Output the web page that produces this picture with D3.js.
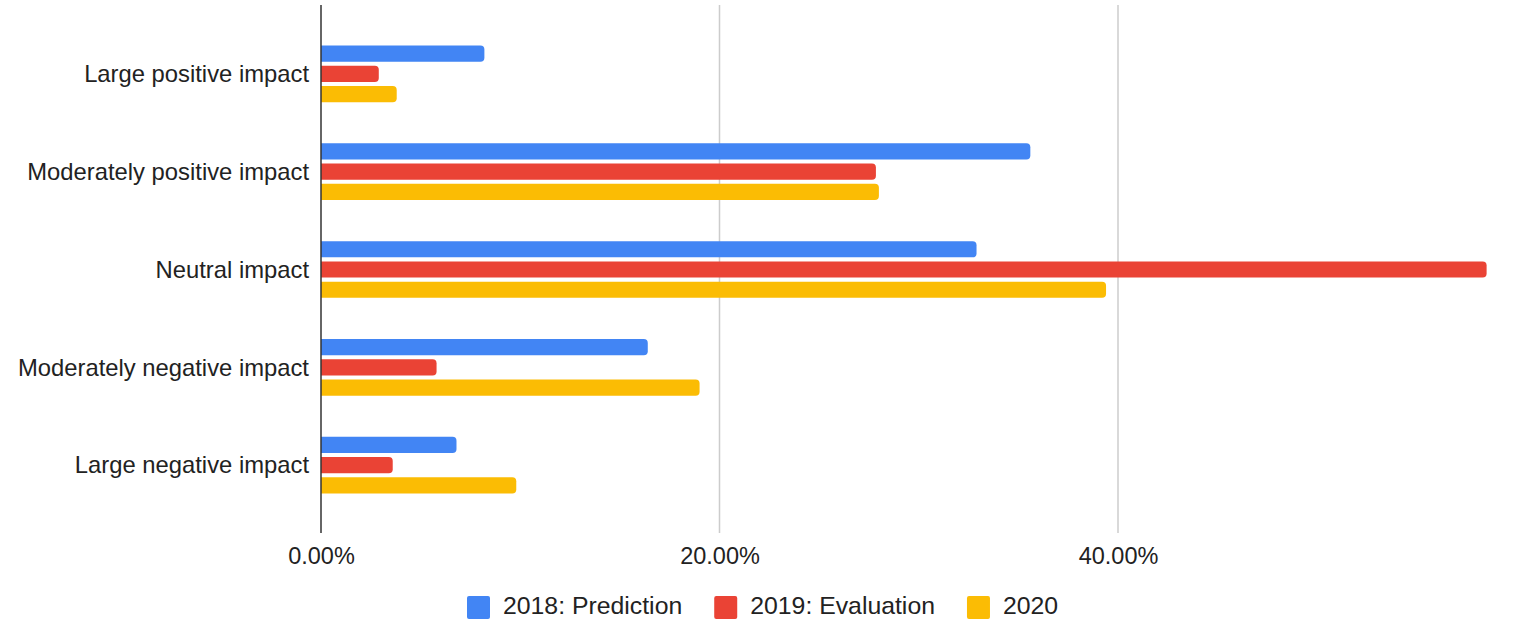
<!DOCTYPE html>
<html>
<head>
<meta charset="utf-8">
<script src="https://cdn.jsdelivr.net/npm/d3@7"></script>
<style>
  html, body { margin: 0; padding: 0; background: #fff; }
  svg { display: block; font-family: "Liberation Sans", Arial, Helvetica, sans-serif; }
</style>
</head>
<body>
<svg id="chart" width="1514" height="619"></svg>
<script>
const categories = ["Large positive impact", "Moderately positive impact", "Neutral impact", "Moderately negative impact", "Large negative impact"];
const seriesNames = ["2018: Prediction", "2019: Evaluation", "2020"];
const seriesColors = ["#4285f4", "#ea4335", "#fbbc04"];
const prediction2018 = [8.2, 35.6, 32.9, 16.4, 6.8];
const evaluation2019 = [2.9, 27.85, 58.5, 5.8, 3.6];
const values2020 = [3.8, 28.0, 39.4, 19.0, 9.8];
const tickValues = [0, 20, 40];
const tickLabels = ["0.00%", "20.00%", "40.00%"];

const seriesValues = [prediction2018, evaluation2019, values2020];
const FONT = "'Liberation Sans', Arial, Helvetica, sans-serif";

const svg = d3.select("#chart");
const x = d3.scaleLinear().domain([0, 60]).range([321, 1516.5]);
const y = d3.scaleBand().domain(categories).range([25, 514]).paddingInner(0.42).paddingOuter(0.21);
const ys = d3.scaleBand().domain(seriesNames).range([0, y.bandwidth()]).paddingInner(0.2);

const gridTop = 5, gridBottom = 533;

// gridlines
svg.append("g").selectAll("line").data(tickValues.filter(d => d !== 0)).join("line")
  .attr("x1", d => x(d)).attr("x2", d => x(d))
  .attr("y1", gridTop).attr("y2", gridBottom)
  .attr("stroke", "#cccccc").attr("stroke-width", 1.5);

// bars with rounded right corners
function barPath(x0, y0, w, h, r) {
  r = Math.min(r, w, h / 2);
  return `M${x0},${y0}H${x0 + w - r}A${r},${r} 0 0 1 ${x0 + w},${y0 + r}V${y0 + h - r}A${r},${r} 0 0 1 ${x0 + w - r},${y0 + h}H${x0}Z`;
}
const barData = [];
categories.forEach((c, i) => {
  seriesNames.forEach((s, j) => {
    barData.push({ cat: c, series: s, value: seriesValues[j][i], color: seriesColors[j] });
  });
});
svg.append("g").selectAll("path").data(barData).join("path")
  .attr("d", d => barPath(x(0), y(d.cat) + ys(d.series), x(d.value) - x(0), ys.bandwidth(), 4))
  .attr("fill", d => d.color);

// zero axis line
svg.append("line")
  .attr("x1", x(0)).attr("x2", x(0)).attr("y1", gridTop).attr("y2", gridBottom)
  .attr("stroke", "#333333").attr("stroke-width", 1.5);

// x axis labels
const xAxis = d3.axisBottom(x).tickValues(tickValues).tickFormat((d, i) => tickLabels[i]).tickSize(0).tickPadding(0);
const gx = svg.append("g").attr("transform", "translate(0,547)").call(xAxis);
gx.select(".domain").remove();
gx.selectAll("text").style("font-family", FONT).style("font-size", "23.5px").attr("fill", "#222").attr("dy", "0.71em");

// y axis labels
const yAxis = d3.axisLeft(y).tickSize(0).tickPadding(0);
const gy = svg.append("g").attr("transform", "translate(309,0)").call(yAxis);
gy.select(".domain").remove();
gy.selectAll("text").style("font-family", FONT).style("font-size", "23.8px").attr("fill", "#222").attr("dy", "0.35em");

// legend
const legend = svg.append("g");
let lx = 467;
seriesNames.forEach((s, j) => {
  legend.append("rect").attr("x", lx).attr("y", 596).attr("width", 23).attr("height", 23).attr("rx", 2).attr("fill", seriesColors[j]);
  const t = legend.append("text").attr("x", lx + 36).attr("y", 614)
    .style("font-family", FONT).style("font-size", "24.8px").attr("fill", "#222").text(s);
  const w = t.node().getComputedTextLength();
  lx = lx + 36 + w + 32;
});
</script>
</body>
</html>
